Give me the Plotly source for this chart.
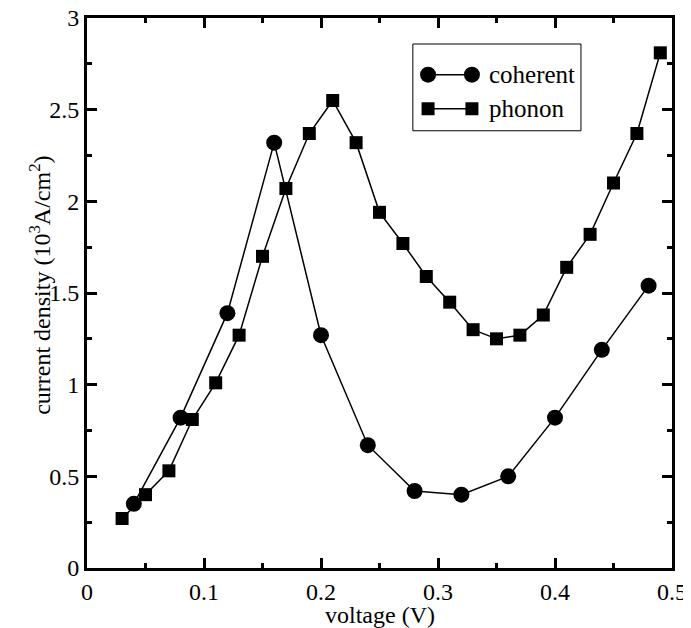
import plotly.graph_objects as go

coh_v = [0.04, 0.08, 0.12, 0.16, 0.20, 0.24, 0.28, 0.32, 0.36, 0.40, 0.44, 0.48]
coh_j = [0.35, 0.82, 1.39, 2.32, 1.27, 0.67, 0.42, 0.40, 0.50, 0.82, 1.19, 1.54]

ph_v = [0.03, 0.05, 0.07, 0.09, 0.11, 0.13, 0.15, 0.17, 0.19, 0.21, 0.23, 0.25,
        0.27, 0.29, 0.31, 0.33, 0.35, 0.37, 0.39, 0.41, 0.43, 0.45, 0.47, 0.49]
ph_j = [0.27, 0.40, 0.53, 0.81, 1.01, 1.27, 1.70, 2.07, 2.37, 2.55, 2.32, 1.94,
        1.77, 1.59, 1.45, 1.30, 1.25, 1.27, 1.38, 1.64, 1.82, 2.10, 2.37, 2.81]

series_names = ["coherent", "phonon"]

x_ticks = [0, 0.1, 0.2, 0.3, 0.4, 0.5]
x_labels = ["0", "0.1", "0.2", "0.3", "0.4", "0.5"]
y_ticks = [0, 0.5, 1, 1.5, 2, 2.5, 3]
y_labels = ["0", "0.5", "1", "1.5", "2", "2.5", "3"]

x_title = "voltage (V)"
y_title = "current density (10<sup>3</sup>A/cm<sup>2</sup>)"

font = "Liberation Serif"
CIRCLE_D = 16
SQUARE_S = 13

fig = go.Figure()
fig.add_trace(go.Scatter(x=coh_v, y=coh_j, mode="lines+markers", name=series_names[0],
                         showlegend=False,
                         line=dict(color="black", width=1.5),
                         marker=dict(symbol="circle", size=CIRCLE_D, color="black")))
fig.add_trace(go.Scatter(x=ph_v, y=ph_j, mode="lines+markers", name=series_names[1],
                         showlegend=False,
                         line=dict(color="black", width=1.5),
                         marker=dict(symbol="square", size=SQUARE_S, color="black")))

axis_common = dict(showgrid=False, zeroline=False, showline=True, linecolor="black",
                   linewidth=3, mirror="ticks", ticks="inside", ticklen=10, tickwidth=2.5,
                   tickcolor="black", automargin=False, ticklabeloverflow="allow",
                   tickfont=dict(family=font, size=24, color="black"))

fig.update_xaxes(range=[0, 0.5], tickmode="array", tickvals=x_ticks, ticktext=x_labels,
                 minor=dict(ticks="inside", ticklen=5, tickwidth=2.5, tickcolor="black",
                            dtick=0.05),
                 **axis_common)
fig.update_yaxes(range=[0, 3], tickmode="array", tickvals=y_ticks, ticktext=y_labels,
                 minor=dict(ticks="inside", ticklen=5, tickwidth=2.5, tickcolor="black",
                            dtick=0.25),
                 **axis_common)

shapes = []
annotations = []

# axis titles
annotations.append(dict(xref="paper", yref="paper", x=0.5, y=-0.085, text=x_title,
                        showarrow=False, xanchor="center", yanchor="middle",
                        font=dict(family=font, size=24, color="black")))
annotations.append(dict(xref="paper", yref="paper", x=-0.0803, y=0.513, text=y_title,
                        showarrow=False, xanchor="center", yanchor="middle", textangle=-90,
                        font=dict(family=font, size=24, color="black")))

# manual legend (box, sample lines with a marker at each end, labels)
shapes.append(dict(type="rect", xref="paper", yref="paper",
                   x0=0.557, x1=0.8444, y0=0.795, y1=0.9527,
                   line=dict(color="black", width=1), fillcolor="white", layer="above"))
rows_y = [0.897, 0.835]
xl, xr, xt = 0.583, 0.658, 0.683
for i, (name, yy) in enumerate(zip(series_names, rows_y)):
    shapes.append(dict(type="line", xref="paper", yref="paper", x0=xl, x1=xr, y0=yy, y1=yy,
                       line=dict(color="black", width=1.5), layer="above"))
    for xx in (xl, xr):
        if i == 0:
            r = CIRCLE_D / 2
            shapes.append(dict(type="circle", xref="paper", yref="paper",
                               xsizemode="pixel", ysizemode="pixel", xanchor=xx, yanchor=yy,
                               x0=-r, x1=r, y0=-r, y1=r, fillcolor="black",
                               line=dict(color="black", width=0), layer="above"))
        else:
            r = SQUARE_S / 2
            shapes.append(dict(type="rect", xref="paper", yref="paper",
                               xsizemode="pixel", ysizemode="pixel", xanchor=xx, yanchor=yy,
                               x0=-r, x1=r, y0=-r, y1=r, fillcolor="black",
                               line=dict(color="black", width=0), layer="above"))
    annotations.append(dict(xref="paper", yref="paper", x=xt, y=yy, text=name,
                            showarrow=False, xanchor="left", yanchor="middle",
                            font=dict(family=font, size=25, color="black")))

fig.update_layout(
    width=691, height=628,
    margin=dict(l=79, r=27, t=10, b=68),
    plot_bgcolor="white", paper_bgcolor="white",
    showlegend=False,
    shapes=shapes, annotations=annotations,
)

fig.write_html("out.html")
